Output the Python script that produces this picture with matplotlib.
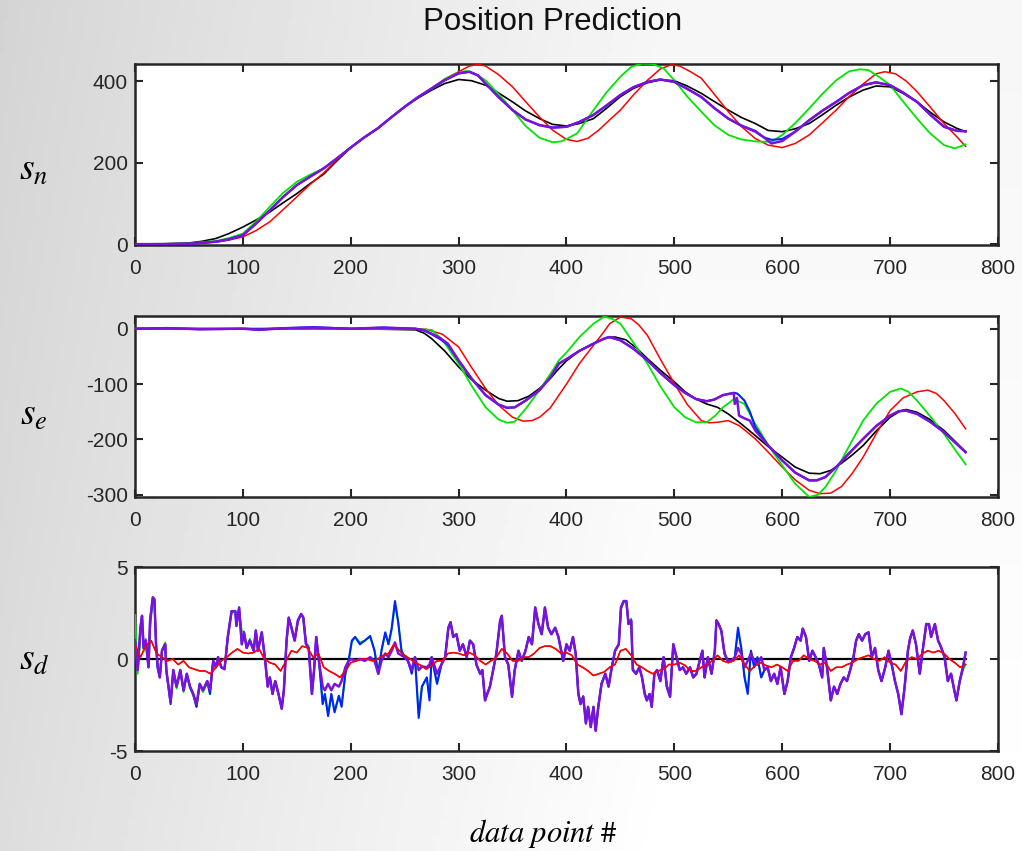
import numpy as np
import matplotlib
matplotlib.use("Agg")
import matplotlib.pyplot as plt

plt.rcParams["font.family"] = ["Liberation Sans", "DejaVu Sans"]
plt.rcParams["mathtext.fontset"] = "stix"
plt.rcParams["axes.unicode_minus"] = False

# ── s_n (north position) ──
sn_true_x = [0, 25, 50, 62, 75, 87, 100, 112, 125, 137, 150, 162, 175, 187, 200, 212, 225, 237, 250,
             262, 275, 287, 300, 312, 325, 337, 350, 362, 375, 387, 400, 412, 425, 437, 450, 462, 475,
             487, 500, 512, 525, 537, 550, 562, 575, 587, 600, 612, 625, 637, 650, 662, 675, 687, 700,
             712, 725, 737, 750, 762, 770]
sn_true = [0, 0.5, 3, 7, 14, 26, 42, 59, 79, 101, 124, 148, 172, 204, 237, 261, 284, 310, 337,
           358, 378, 394, 404, 401, 390, 371, 349, 327, 308, 294, 290, 296, 308, 333, 362, 382, 396,
           403, 401, 388, 370, 350, 329, 311, 296, 279, 276, 283, 296, 317, 341, 361, 378, 388, 386,
           370, 349, 324, 300, 284, 276]

sn_red_x = [0, 50, 75, 87, 100, 112, 125, 137, 150, 162, 175, 187, 200, 212, 225, 237, 250, 262, 275,
            287, 300, 310, 318, 325, 337, 350, 362, 375, 387, 400, 410, 420, 430, 440, 450, 462, 475,
            487, 497, 505, 515, 525, 537, 550, 562, 575, 587, 600, 612, 625, 637, 650, 662, 675, 687,
            695, 705, 715, 725, 737, 750, 762, 770]
sn_red = [0, 1, 5, 10, 18, 33, 55, 84, 116, 146, 175, 206, 237, 261, 284, 310, 337, 360, 383,
          405, 423, 437, 441, 437, 416, 386, 350, 312, 280, 257, 252, 260, 280, 305, 329, 366, 402,
          430, 440, 437, 423, 407, 368, 325, 289, 259, 243, 237, 247, 268, 297, 329, 362, 393, 418,
          423, 418, 400, 374, 337, 296, 263, 240]

sn_green_x = [0, 50, 75, 87, 100, 112, 125, 137, 150, 162, 175, 187, 200, 212, 225, 237, 250, 262, 275,
              287, 300, 307, 315, 325, 337, 350, 362, 375, 387, 395, 400, 410, 425, 437, 450, 460, 470,
              480, 490, 500, 512, 525, 537, 550, 562, 575, 590, 600, 612, 625, 637, 650, 662, 672, 680,
              690, 700, 712, 725, 737, 750, 760, 770]
sn_green = [0, 2, 8, 15, 26, 55, 92, 125, 153, 170, 186, 210, 237, 261, 284, 310, 337, 360, 381,
            405, 421, 425, 418, 402, 368, 329, 290, 261, 250, 252, 258, 272, 329, 372, 411, 435, 443,
            442, 431, 402, 362, 325, 292, 268, 257, 252, 251, 268, 297, 333, 368, 402, 424, 429, 427,
            410, 390, 350, 308, 272, 243, 235, 245]

sn_est_x = [0, 25, 50, 75, 87, 100, 112, 125, 137, 150, 162, 175, 187, 200, 212, 225, 237, 250, 262,
            275, 287, 300, 310, 318, 325, 337, 350, 362, 375, 387, 400, 412, 425, 437, 450, 462, 475,
            487, 500, 512, 525, 537, 550, 562, 575, 583, 590, 600, 612, 625, 637, 650, 662, 675, 687,
            700, 712, 725, 737, 750, 762, 770]
sn_purple = [0, 0.3, 1, 6, 12, 22, 50, 83, 115, 145, 165, 186, 210, 237, 261, 284, 310, 337, 360,
             382, 402, 419, 423, 414, 394, 361, 329, 306, 292, 286, 288, 300, 317, 340, 366, 385, 398,
             404, 398, 381, 361, 334, 308, 291, 276, 262, 247, 253, 276, 304, 327, 349, 371, 390, 397,
             390, 372, 349, 318, 288, 278, 277]
sn_blue = [0, 0.3, 1, 6, 12, 22, 50, 83, 115, 145, 165, 186, 210, 237, 261, 284, 310, 337, 360,
           382, 402, 419, 423, 414, 394, 361, 329, 306, 292, 286, 288, 300, 317, 340, 366, 385, 398,
           404, 398, 381, 361, 334, 308, 291, 278, 262, 256, 258, 276, 304, 327, 349, 371, 390, 397,
           390, 372, 349, 318, 288, 278, 277]

# ── s_e (east position) ──
se_true_x = [0, 100, 200, 260, 268, 275, 287, 300, 312, 325, 337, 345, 355, 365, 375, 385, 393, 400,
             412, 425, 437, 445, 455, 465, 475, 487, 500, 510, 520, 530, 540, 550, 562, 575, 587, 600,
             612, 625, 635, 645, 655, 665, 675, 687, 700, 710, 715, 725, 737, 750, 760, 770]
se_true = [0, 0, 0, -2, -8, -18, -40, -69, -92, -111, -126, -131, -130, -122, -108, -90, -72, -58,
           -40, -27, -16, -15, -20, -35, -54, -75, -96, -114, -127, -136, -142, -154, -172, -193, -213, -232,
           -250, -261, -262, -256, -243, -228, -211, -185, -160, -148, -146, -151, -164, -184, -203, -223]

se_red_x = [0, 50, 100, 115, 130, 200, 250, 270, 285, 300, 312, 325, 337, 350, 360, 368, 375, 385,
            393, 400, 412, 425, 433, 440, 450, 460, 467, 475, 487, 500, 512, 525, 532, 540, 550, 560,
            567, 575, 587, 600, 612, 625, 635, 645, 655, 665, 675, 687, 700, 712, 725, 735, 743, 750,
            760, 770]
se_red = [0, 0, 0, -3, 0, 0, 0, -1, -10, -33, -70, -108, -138, -160, -167, -166, -160, -143,
          -120, -100, -63, -30, -10, 9, 21, 18, 7, -12, -55, -99, -137, -166, -170, -169, -166, -175,
          -186, -199, -223, -250, -273, -292, -298, -297, -285, -261, -232, -190, -148, -125, -114, -111, -117, -130,
          -153, -181]

se_green_x = [0, 50, 100, 150, 200, 250, 275, 285, 300, 312, 325, 337, 345, 352, 362, 375, 387, 393,
              400, 412, 425, 435, 442, 450, 462, 475, 487, 500, 510, 520, 530, 538, 545, 552, 555, 565,
              575, 587, 600, 612, 625, 633, 640, 650, 662, 675, 687, 700, 710, 717, 725, 737, 750, 760,
              770]
se_green = [0, 1, 0, 1, 0, 0, -2, -20, -63, -103, -142, -164, -170, -168, -145, -111, -76, -57,
            -43, -15, 9, 22, 18, 9, -25, -63, -104, -142, -160, -169, -169, -157, -142, -132, -127, -136,
            -172, -210, -247, -280, -304, -300, -286, -256, -212, -166, -136, -114, -108, -114, -130, -158, -190, -218,
            -245]

se_est_x = [0, 30, 60, 100, 115, 140, 165, 200, 230, 260, 268, 275, 283, 290, 300, 312, 325, 337, 345,
            352, 362, 375, 385, 393, 400, 412, 425, 435, 440, 450, 462, 475, 487, 500, 510, 520, 530,
            537, 545, 555, 556, 558, 560, 565, 570, 575, 587, 600, 612, 625, 632, 640, 650, 662, 675,
            687, 700, 708, 715, 725, 737, 750, 760, 770]
se_purple = [0, 1, -1, 0, -2, 1, 2, 0, 2, 0, -3, -9, -17, -27, -57, -90, -120, -137, -143,
             -142, -130, -111, -88, -63, -55, -40, -27, -18, -15, -21, -36, -57, -80, -102, -116, -127, -131,
             -128, -120, -116, -136, -125, -157, -162, -166, -184, -211, -238, -260, -274, -274, -268, -250, -225, -199,
             -176, -157, -149, -148, -154, -168, -187, -205, -223]
se_blue = [0, 1, -1, 0, -1, 1, 3, 0, 2, 0, -3, -10, -19, -29, -58, -90, -120, -137, -143,
           -142, -130, -111, -88, -63, -55, -40, -27, -18, -15, -21, -36, -57, -80, -102, -116, -127, -131,
           -128, -120, -116, -116, -117, -120, -130, -150, -178, -211, -238, -260, -274, -274, -268, -250, -225, -199,
           -176, -157, -149, -148, -154, -168, -187, -205, -223]

# ── s_d (down position) ──
sd_est_x = [0, 2.5, 5, 6.5, 8, 10, 12.5, 14, 16.5, 18, 19.5, 21, 23, 25, 28, 29, 33, 35.5, 38.5, 42,
            45, 48, 51, 54, 57, 60, 63, 67, 69.5, 72.5, 75, 77, 80, 83, 86, 89.5, 93, 94, 96.5, 99,
            101, 103.5, 106.5, 110, 112, 114, 117.5, 120.5, 123, 125, 127.5, 130, 133, 136, 138, 140.5,
            142.5, 145, 148, 151, 154, 156, 158.5, 161, 164, 166, 168, 170.5, 174, 176, 179, 182, 185,
            189, 191.5, 195, 198, 201, 204, 208.5, 213, 218, 222, 225.5, 228.5, 232, 235, 238, 241, 244,
            247, 250, 253, 256.5, 259.5, 263, 266, 270.5, 273, 275, 280, 284, 287.5, 290.5, 292.5, 295,
            298, 301, 304, 307.5, 310.5, 313.5, 316.5, 320, 322, 324.5, 326.5, 329, 332, 335, 338.5,
            340, 343, 346, 349.5, 352, 355.5, 358.5, 362, 365, 368, 371, 374, 377, 380, 383, 386, 389.5,
            392.5, 397, 400, 403, 406, 408.5, 411, 413, 415.5, 418, 420, 422.5, 425, 427, 429.5, 432.5,
            436, 439, 442, 445, 448.5, 450.5, 453, 455.5, 457.5, 460, 461.5, 464.5, 467.5, 470, 472.5,
            474.5, 477, 479, 481.5, 484, 487, 490, 493, 496, 499, 502, 505, 508, 511, 514.5, 517.5,
            520.5, 523.5, 526, 528, 531, 534.5, 537.5, 539, 541, 543.5, 546.5, 549.5, 553, 556, 559,
            562, 565, 568, 571, 574, 577, 580.5, 583.5, 586.5, 589.5, 592.5, 595.5, 598.5, 602, 605,
            608, 611, 614, 617, 619, 622, 625, 628, 631, 634, 637, 638.5, 641.5, 645, 648, 651, 654,
            657, 660, 663, 666, 668.5, 671, 674, 677, 680, 683, 686, 689, 692, 695.5, 698.5, 701.5,
            704.5, 707.5, 710.5, 713.5, 716.5, 718.5, 721, 724, 727.5, 730.5, 733.5, 736, 738, 741.5,
            744.5, 747.5, 750.5, 753.5, 756.5, 759.5, 761.5, 764.5, 767.5, 770]
sd_purple = [1.0, -0.6, 1.7, 2.35, 0.6, 1.0, -0.45, 2.1, 3.35, 3.25, 0.8, -0.45, -1.0, 0.45, 0.8, -0.6,
             -2.35, -0.6, -1.5, -0.6, -1.7, -0.8, -1.5, -1.9, -2.45, -1.35, -1.7, -1.2, -1.7, -0.1,
             -0.45, 0.1, -0.45, -0.55, 1.2, 2.6, 2.6, 1.8, 2.8, 0.8, 1.45, 0.6, 1.0, 0.45, 1.55, 0.45,
             1.45, 0.0, -1.5, -1.0, -1.9, -1.2, -1.9, -2.7, -1.7, 1.0, 2.25, 1.7, 1.0, 2.1, 2.45, 2.25,
             0.8, 0.6, -1.9, -0.6, 1.2, -0.1, -1.5, -1.7, -1.35, -1.7, -1.35, -1.5, -1.2, -0.45, -0.1,
             0.0, -0.1, 0.0, -0.1, 0.1, -0.1, -0.8, -0.1, 0.3, 0.1, 0.45, 0.9, 0.3, 0.2, 0.1, -0.1,
             -0.6, 0.1, -0.6, -0.4, -0.45, -0.3, 0.1, -0.8, -0.3, 0.1, 1.7, 2.0, 1.2, 1.35, 0.45, 0.8,
             0.1, 1.0, 0.8, -0.3, -0.8, -0.6, -2.25, -1.9, -1.5, -0.6, 0.3, 2.1, 2.35, 0.1, -0.3, -2.05,
             -0.6, 0.45, -0.1, 0.45, 1.2, 0.8, 2.8, 1.9, 1.35, 2.8, 1.7, 1.35, 1.7, 1.2, -0.1, 0.8,
             0.45, 1.2, 0.3, -1.9, -2.45, -2.05, -3.5, -2.6, -3.7, -2.6, -3.9, -2.6, -1.35, -0.8, -1.5,
             -0.45, 0.45, 0.8, 2.8, 3.15, 3.15, 1.9, 2.1, -0.6, -0.8, -0.45, -1.0, -1.9, -2.25, -1.9,
             -2.6, -0.8, -0.6, -1.2, 0.1, -1.5, -2.05, 0.8, 0.1, -0.6, -0.45, -0.8, -0.45, -1.0, -0.8,
             -0.1, 0.45, -1.0, 0.1, -0.8, 0.45, 2.1, 1.9, 1.55, 0.3, -0.1, -0.1, 0.1, 0.6, 0.3, -0.45,
             -0.1, 0.3, -0.1, -0.3, 0.1, -0.6, -0.45, -1.2, -0.8, -1.35, -0.45, -1.9, -1.2, 0.1, 0.6,
             1.2, 1.0, 1.65, 1.2, -0.1, 0.45, 0.1, -0.3, -1.0, 0.6, -0.45, -2.25, -1.5, -1.9, -1.35,
             -1.0, -1.2, -0.6, 0.1, 1.0, 1.35, 1.0, 1.35, 1.45, 0.1, 0.6, -0.6, -1.2, -0.45, 0.45,
             -0.3, -1.2, -1.9, -3.0, -1.5, 0.45, 1.1, 1.55, 0.8, -0.8, 0.6, 1.9, 1.9, 1.2, 1.9, 1.0,
             0.6, 0.1, -1.2, -0.8, -1.7, -2.25, -1.2, -0.45, 0.35]
sd_blue = [1.0, -0.6, 1.7, 2.35, 0.6, 1.0, -0.45, 2.1, 3.35, 3.25, 0.8, -0.45, -1.0, 0.45, 0.8, -0.6,
           -2.45, -0.6, -1.5, -0.6, -1.7, -0.8, -1.5, -1.9, -2.6, -1.35, -1.7, -1.2, -1.9, -0.1,
           -0.45, 0.1, -0.45, -0.55, 1.2, 2.6, 2.6, 1.8, 2.8, 0.8, 1.45, 0.6, 1.0, 0.45, 1.55, 0.45,
           1.45, 0.0, -1.5, -1.0, -1.9, -1.2, -1.9, -2.7, -1.7, 1.0, 2.25, 1.7, 1.0, 2.1, 2.45, 2.25,
           0.8, 0.6, -1.9, -0.6, 1.2, -0.1, -2.45, -1.9, -3.1, -1.9, -2.9, -2.0, -2.6, -0.8, -0.1,
           1.0, 1.2, 0.8, 1.0, 1.25, 0.45, -0.8, 0.45, 1.45, 0.8, 1.7, 3.15, 2.0, 0.45, 0.1, -0.1,
           -0.8, 0.1, -3.2, -1.5, -1.0, -2.25, 0.1, -1.35, -0.3, 0.1, 1.7, 2.0, 1.2, 1.35, 0.45, 0.8,
           0.1, 1.0, 0.8, -0.3, -0.8, -0.6, -2.25, -1.9, -1.5, -0.6, 0.3, 2.1, 2.35, 0.1, -0.3, -2.05,
           -0.6, 0.45, -0.1, 0.45, 1.2, 0.8, 2.8, 1.9, 1.35, 2.8, 1.7, 1.35, 1.7, 1.2, -0.1, 0.8,
           0.45, 1.2, 0.3, -1.9, -2.45, -2.05, -3.5, -2.6, -3.7, -2.6, -3.9, -2.6, -1.35, -0.8, -1.5,
           -0.45, 0.45, 0.8, 2.8, 3.15, 3.15, 1.9, 2.1, -0.6, -0.8, -0.45, -1.0, -1.9, -2.25, -1.9,
           -2.6, -0.8, -0.6, -1.2, 0.1, -1.5, -2.05, 0.8, 0.1, -0.6, -0.45, -0.8, -0.45, -1.0, -0.8,
           -0.1, 0.45, -1.0, 0.1, -0.8, 0.45, 2.1, 1.9, 1.55, 0.3, -0.1, -0.1, 0.1, 1.7, 0.6, -1.0,
           -1.9, 0.45, -0.45, 0.1, -1.0, -0.6, -0.45, -1.2, -0.8, -1.35, -0.45, -1.9, -1.2, 0.1, 0.6,
           1.2, 1.0, 1.65, 1.2, -0.1, 0.45, 0.1, -0.3, -1.0, 0.6, -0.45, -2.25, -1.5, -1.9, -1.35,
           -1.0, -1.2, -0.6, 0.1, 1.0, 1.35, 1.0, 1.35, 1.45, 0.1, 0.6, -0.6, -1.2, -0.45, 0.45,
           -0.3, -1.2, -1.9, -3.0, -1.5, 0.45, 1.1, 1.55, 0.8, -0.8, 0.6, 1.9, 1.9, 1.2, 1.9, 1.0,
           0.6, 0.1, -1.2, -0.8, -1.7, -2.25, -1.2, -0.45, 0.35]
sd_green = [2.4, -0.8, 1.2, 2.2, 0.4, 1.1, -0.3, 1.6, 3.2, 3.1, 0.9, -0.4, -1.0, 0.5, 0.9, -0.5,
            -2.3, -0.7, -1.6, -0.7, -1.8, -0.9, -1.6, -2.0, -2.6, -1.4, -1.8, -1.3, -1.9, -0.1,
            -0.45, 0.1, -0.45, -0.5, 1.1, 2.5, 2.6, 1.9, 2.7, 1.5, 1.5, 0.7, 1.1, 0.5, 1.5, 0.5,
            1.4, 0.1, -1.4, -1.0, -1.8, -1.2, -1.9, -2.6, -1.7, 0.9, 2.2, 1.8, 1.1, 2.0, 2.4, 2.3,
            0.9, 0.7, -1.8, -0.6, 1.1, -0.1, -2.4, -1.9, -3.0, -1.9, -2.8, -2.0, -2.5, -0.8, -0.1,
            0.9, 1.2, 0.9, 1.0, 1.2, 0.5, -0.7, 0.5, 1.4, 0.8, 1.6, 3.0, 2.0, 0.5, 0.1, -0.1,
            -0.7, 0.1, -3.0, -1.5, -1.0, -2.1, 0.1, -1.3, -0.3, 0.1, 1.6, 2.0, 1.3, 1.3, 0.5, 0.8,
            0.1, 1.0, 0.8, -0.3, -0.8, -0.6, -2.2, -1.9, -1.5, -0.6, 0.3, 2.0, 2.3, 0.1, -0.3, -2.0,
            -0.6, 0.45, -0.1, 0.45, 1.2, 0.8, 2.7, 1.9, 1.35, 2.7, 1.7, 1.35, 1.7, 1.2, -0.1, 0.8,
            0.45, 1.2, 0.3, -1.8, -2.4, -2.0, -3.4, -2.6, -3.6, -2.6, -3.8, -2.5, -1.3, -0.8, -1.4,
            -0.45, 0.45, 0.8, 2.7, 3.1, 3.1, 2.0, 2.2, -0.5, -0.8, -0.45, -1.0, -1.8, -2.2, -1.9,
            -2.5, -0.8, -0.6, -1.2, 0.1, -1.4, -2.0, 0.8, 0.1, -0.6, -0.45, -0.8, -0.45, -1.0, -0.8,
            -0.1, 0.45, -1.0, 0.1, -0.8, 0.45, 2.0, 1.9, 1.55, 0.3, -0.1, -0.1, 0.1, 1.5, 0.6, -0.9,
            -1.8, 0.45, -0.45, 0.1, -1.0, -0.6, -0.45, -1.2, -0.8, -1.35, -0.45, -1.9, -1.2, 0.1, 0.6,
            1.2, 1.0, 1.6, 1.2, -0.1, 0.45, 0.1, -0.3, -1.0, 0.6, -0.45, -2.2, -1.5, -1.9, -1.35,
            -1.0, -1.2, -0.6, 0.1, 1.0, 1.35, 1.0, 1.35, 1.45, 0.1, 0.6, -0.6, -1.2, -0.45, 0.45,
            -0.3, -1.2, -1.9, -2.9, -1.5, 0.45, 1.2, 1.5, 0.8, -0.8, 0.6, 1.8, 1.9, 1.2, 1.8, 1.0,
            0.6, 0.1, -1.2, -0.8, -1.7, -2.1, -1.3, -0.6, -0.3]

sd_red_x = list(range(0, 775, 5))
sd_red = [0.8, 0.1, 0.7, 1.0, 0.3, 0.1, -0.1, 0.0, -0.3, -0.1, -0.45, -0.55, -0.65, -0.65, -0.8,
          -0.45, -0.1, 0.1, 0.35, 0.55, 0.35, 0.3, 0.35, 0.55, 0.0, -0.2, -0.3, -0.65, -0.1, 0.45,
          0.35, 0.7, 0.6, 0.1, 0.3, -0.45, -0.65, -0.8, -1.0, -0.65, -0.2, -0.1, 0.0, 0.0, -0.1,
          0.0, 0.2, 0.3, 0.8, 0.45, 0.2, 0.0, -0.2, -0.35, -0.55, -0.35, -0.1, -0.1, 0.3, 0.35,
          0.3, 0.2, 0.35, 0.2, -0.1, -0.3, -0.1, 0.1, 0.55, 0.3, -0.1, -0.1, 0.1, 0.1, 0.3, 0.6,
          0.7, 0.7, 0.55, 0.3, 0.35, 0.2, -0.3, -0.45, -0.65, -0.9, -0.8, -0.7, -0.45, -0.3, 0.45,
          0.55, 0.2, -0.3, -0.45, -0.65, -0.8, -0.65, -0.55, -0.3, -0.3, -0.2, -0.35, -0.65, -0.65,
          -0.45, -0.3, -0.1, 0.2, -0.1, -0.2, -0.1, 0.2, -0.3, -0.65, -0.35, -0.2, -0.35, -0.45,
          -0.3, -0.45, -0.65, -0.1, -0.1, 0.2, 0.0, -0.1, -0.3, -0.2, -0.65, -0.45, -0.45, -0.3,
          -0.2, 0.0, 0.1, 0.2, 0.0, -0.1, 0.1, -0.2, -0.3, -0.65, -0.1, 0.1, 0.0, 0.3, 0.45, 0.35,
          0.45, 0.3, 0.0, -0.2, -0.45, -0.3]

x_ticks = [0, 100, 200, 300, 400, 500, 600, 700, 800]
panels = [
    dict(label=r"$s_n$", ylim=(-2, 442), yticks=[0, 200, 400],
         true=(sn_true_x, sn_true), red=(sn_red_x, sn_red), green=(sn_green_x, sn_green),
         blue=(sn_est_x, sn_blue), purple=(sn_est_x, sn_purple)),
    dict(label=r"$s_e$", ylim=(-304, 23), yticks=[-300, -200, -100, 0],
         true=(se_true_x, se_true), red=(se_red_x, se_red), green=(se_green_x, se_green),
         blue=(se_est_x, se_blue), purple=(se_est_x, se_purple)),
    dict(label=r"$s_d$", ylim=(-5, 5), yticks=[-5, 0, 5],
         true=([0, 770], [0, 0]), red=(sd_red_x, sd_red), green=(sd_est_x, sd_green),
         blue=(sd_est_x, sd_blue), purple=(sd_est_x, sd_purple)),
]

fig = plt.figure(figsize=(10.22, 8.51), dpi=100)

# slide background: light grey on the left fading to white on the right
bg = fig.add_axes([0, 0, 1, 1], zorder=-10)
gx = np.linspace(0, 1, 256)
gy = np.linspace(0, 1, 128)[:, None]
shade = 0.865 + 0.135 * np.clip(gx / 0.65, 0, 1) ** 0.9
shade = np.clip(shade - 0.035 * (1 - gy), 0, 1)
bg.imshow(shade, cmap="gray", vmin=0, vmax=1, aspect="auto", extent=[0, 1, 0, 1])
bg.axis("off")

ax_rects = [[0.1321, 0.7121, 0.8444, 0.2127],
            [0.1321, 0.4160, 0.8444, 0.2127],
            [0.1321, 0.1175, 0.8444, 0.2162]]
label_y = [0.800, 0.512, 0.224]

frame = "#262626"
for rect, p, ly in zip(ax_rects, panels, label_y):
    ax = fig.add_axes(rect)
    ax.set_facecolor("white")
    is_sd = p["label"] == r"$s_d$"
    ax.plot(*p["true"], color="black", lw=1.6 if is_sd else 1.2, zorder=2)
    ax.plot(*p["red"], color="#ff0000", lw=1.1, zorder=3)
    ax.plot(*p["green"], color="#00e600", lw=1.3, zorder=4)
    ax.plot(*p["blue"], color="#0022ff", lw=1.5, zorder=5)
    ax.plot(*p["purple"], color="#7a12dc", lw=1.8, zorder=6)
    if is_sd:
        ax.plot(*p["red"], color="#ff0000", lw=1.0, zorder=7)
    ax.set_xlim(0, 800)
    ax.set_ylim(*p["ylim"])
    ax.set_xticks(x_ticks)
    ax.set_yticks(p["yticks"])
    ax.tick_params(direction="in", length=6, width=1.5, colors=frame, labelcolor="#262626",
                   labelsize=15, top=True, right=True)
    ax.tick_params(axis="x", pad=10)
    ax.tick_params(axis="y", pad=5)
    for s in ax.spines.values():
        s.set_color(frame)
        s.set_linewidth(1.8)
    fig.text(0.033, ly, p["label"], fontsize=27, ha="center", va="center")

fig.text(0.541, 0.974, "Position Prediction", fontsize=22.5, ha="center", va="center",
         color="#111111")
fig.text(0.532, 0.021, r"$data\ point\ \#$", fontsize=22, ha="center", va="center")

fig.savefig("out.png", dpi=100)
